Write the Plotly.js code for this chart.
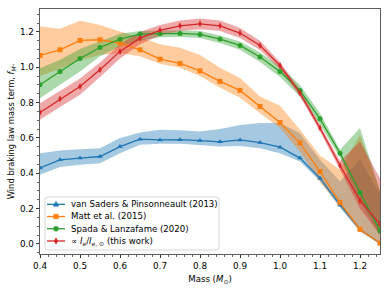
<!DOCTYPE html>
<html>
<head>
<meta charset="utf-8">
<script src="https://cdn.plot.ly/plotly-3.0.1.min.js"></script>
<style>html,body{margin:0;padding:0;background:#fff;}#chart{width:388px;height:291px;}</style>
</head>
<body>
<div id="chart"></div>
<script>
const mass = [0.40,0.45,0.50,0.55,0.60,0.65,0.70,0.75,0.80,0.85,0.90,0.95,1.00,1.05,1.10,1.15,1.20,1.25];

const seriesNames = ["van Saders & Pinsonneault (2013)", "Matt et al. (2015)", "Spada & Lanzafame (2020)", "\u221D <i>I</i><sub><i>e</i></sub>/<i>I</i><sub><i>e</i>, \u2299</sub> (this work)"];

const vanSaders      = [0.430,0.476,0.486,0.495,0.551,0.593,0.589,0.590,0.585,0.578,0.589,0.574,0.548,0.486,0.372,0.221,0.083,0.004];
const vanSadersLow   = [0.391,0.435,0.448,0.457,0.514,0.561,0.567,0.567,0.561,0.551,0.555,0.542,0.514,0.467,0.355,0.205,0.070,0.000];
const vanSadersHigh  = [0.514,0.529,0.536,0.542,0.599,0.631,0.646,0.644,0.636,0.650,0.674,0.684,0.684,0.627,0.476,0.355,0.480,0.280];

const matt      = [1.067,1.099,1.152,1.156,1.137,1.099,1.046,1.022,0.980,0.920,0.869,0.778,0.687,0.572,0.410,0.234,0.083,0.004];
const mattLow   = [0.950,0.990,1.040,1.070,1.080,1.062,1.020,0.997,0.950,0.884,0.827,0.740,0.657,0.520,0.350,0.215,0.070,0.000];
const mattHigh  = [1.231,1.218,1.263,1.240,1.203,1.170,1.130,1.110,1.070,0.997,0.940,0.835,0.782,0.646,0.500,0.420,0.618,0.300];

const spada      = [0.901,0.976,1.050,1.112,1.159,1.188,1.190,1.192,1.186,1.160,1.124,1.058,0.976,0.869,0.708,0.514,0.291,0.075];
const spadaLow   = [0.825,0.901,0.976,1.062,1.118,1.150,1.170,1.172,1.166,1.138,1.100,1.030,0.945,0.835,0.675,0.490,0.240,0.050];
const spadaHigh  = [0.995,1.042,1.103,1.146,1.190,1.205,1.207,1.210,1.205,1.180,1.146,1.084,1.006,0.900,0.740,0.533,0.656,0.300];

const thisWork      = [0.744,0.820,0.891,0.986,1.090,1.165,1.209,1.235,1.246,1.235,1.194,1.124,1.010,0.854,0.656,0.444,0.245,0.113];
const thisWorkLow   = [0.703,0.775,0.845,0.945,1.050,1.130,1.180,1.205,1.216,1.205,1.166,1.098,0.990,0.834,0.636,0.420,0.200,0.050];
const thisWorkHigh  = [0.797,0.865,0.937,1.027,1.130,1.200,1.240,1.265,1.276,1.265,1.222,1.150,1.030,0.874,0.676,0.470,0.580,0.370];

const colors = ["#1f77b4","#ff7f0e","#2ca02c","#d62728"];
const bandColors = ["rgba(31,119,180,0.4)","rgba(255,127,14,0.4)","rgba(44,160,44,0.4)","rgba(214,39,40,0.4)"];
const symbols = ["triangle-up","square","circle","diamond-tall"];
const lines = [vanSaders, matt, spada, thisWork];
const lows = [vanSadersLow, mattLow, spadaLow, thisWorkLow];
const highs = [vanSadersHigh, mattHigh, spadaHigh, thisWorkHigh];

const traces = [];
for (let i = 0; i < 4; i++) {
  const rev = mass.slice().reverse();
  traces.push({
    x: mass.concat(rev),
    y: highs[i].concat(lows[i].slice().reverse()),
    type: 'scatter', mode: 'lines', fill: 'toself',
    fillcolor: bandColors[i], line: {width: 0, color: 'rgba(0,0,0,0)'},
    showlegend: false, hoverinfo: 'skip'
  });
}
for (let i = 0; i < 4; i++) {
  traces.push({
    x: mass, y: lines[i], name: seriesNames[i],
    type: 'scatter', mode: 'lines+markers',
    line: {color: colors[i], width: 1.3},
    marker: {symbol: symbols[i], size: 5, color: colors[i]},
    showlegend: false
  });
}

// ---- custom compact legend (matplotlib style), layout in pixels -> paper ----
const W = 388, H = 291, M = {l: 40, r: 8, t: 9, b: 37};
const PW = W - M.l - M.r, PH = H - M.t - M.b;
const px = v => (v - M.l) / PW;
const py = v => (H - M.b - v) / PH;

const shapes = [];
const annotations = [];
(function () {
  const x0 = 45, x1 = 219, y0 = 197, y1 = 250, r = 2.5;
  const P = (x, y) => px(x) + ',' + py(y);
  const path = 'M' + P(x0 + r, y0) + ' L' + P(x1 - r, y0) + ' Q' + P(x1, y0) + ' ' + P(x1, y0 + r) +
    ' L' + P(x1, y1 - r) + ' Q' + P(x1, y1) + ' ' + P(x1 - r, y1) +
    ' L' + P(x0 + r, y1) + ' Q' + P(x0, y1) + ' ' + P(x0, y1 - r) +
    ' L' + P(x0, y0 + r) + ' Q' + P(x0, y0) + ' ' + P(x0 + r, y0) + ' Z';
  shapes.push({type: 'path', xref: 'paper', yref: 'paper', path: path,
    fillcolor: 'rgba(255,255,255,0.8)', line: {color: '#cccccc', width: 0.8}, layer: 'above'});
})();
const rowY = [204.3, 216.5, 228.7, 241.0];
function glyph(sym, cx, cy, color) {
  const P = (x, y) => px(x) + ',' + py(y);
  let path;
  if (sym === 'triangle-up') {
    path = 'M' + P(cx, cy - 3) + ' L' + P(cx + 2.8, cy + 2) + ' L' + P(cx - 2.8, cy + 2) + ' Z';
  } else if (sym === 'square') {
    path = 'M' + P(cx - 2.3, cy - 2.3) + ' L' + P(cx + 2.3, cy - 2.3) + ' L' + P(cx + 2.3, cy + 2.3) + ' L' + P(cx - 2.3, cy + 2.3) + ' Z';
  } else if (sym === 'diamond-tall') {
    path = 'M' + P(cx, cy - 3.2) + ' L' + P(cx + 1.8, cy) + ' L' + P(cx, cy + 3.2) + ' L' + P(cx - 1.8, cy) + ' Z';
  }
  if (sym === 'circle') {
    shapes.push({type: 'circle', xref: 'paper', yref: 'paper',
      x0: px(cx - 2.5), x1: px(cx + 2.5), y0: py(cy + 2.5), y1: py(cy - 2.5),
      fillcolor: color, line: {color: color, width: 0.5}, layer: 'above'});
  } else {
    shapes.push({type: 'path', xref: 'paper', yref: 'paper', path: path,
      fillcolor: color, line: {color: color, width: 0.5}, layer: 'above'});
  }
}
for (let i = 0; i < 4; i++) {
  shapes.push({type: 'line', xref: 'paper', yref: 'paper',
    x0: px(47), x1: px(65), y0: py(rowY[i]), y1: py(rowY[i]),
    line: {color: colors[i], width: 1.3}, layer: 'above'});
  glyph(symbols[i], 56, rowY[i], colors[i]);
  annotations.push({xref: 'paper', yref: 'paper', x: px(69), y: py(rowY[i]),
    xanchor: 'left', yanchor: 'middle', showarrow: false, text: seriesNames[i],
    font: {family: 'DejaVu Sans, sans-serif', size: 8.6, color: '#000'}});
}

const tickFont = {family: 'DejaVu Sans, sans-serif', size: 8.8, color: '#000'};
const layout = {
  width: W, height: H,
  margin: M,
  paper_bgcolor: '#fff', plot_bgcolor: '#fff',
  font: {family: 'DejaVu Sans, sans-serif', size: 8.8, color: '#000'},
  showlegend: false,
  shapes: shapes,
  annotations: annotations,
  xaxis: {
    range: [0.4, 1.25], dtick: 0.1, tick0: 0.4, tickformat: '.1f', tickfont: tickFont,
    ticks: 'outside', ticklen: 3.5, tickwidth: 0.8, tickcolor: '#000',
    showline: true, linecolor: '#333', linewidth: 0.8, mirror: true,
    showgrid: false, zeroline: false,
    minor: {dtick: 0.02, ticks: 'outside', ticklen: 2, tickwidth: 0.6, tickcolor: '#000', showgrid: false},
    title: {text: 'Mass (<i>M</i><sub>\u2299</sub>)', font: {family: 'DejaVu Sans, sans-serif', size: 8.6}, standoff: 6}
  },
  yaxis: {
    range: [-0.057, 1.33], dtick: 0.2, tick0: 0, tickformat: '.1f', tickfont: tickFont,
    ticks: 'outside', ticklen: 3.5, tickwidth: 0.8, tickcolor: '#000',
    showline: true, linecolor: '#333', linewidth: 0.8, mirror: true,
    showgrid: false, zeroline: false,
    minor: {dtick: 0.05, ticks: 'outside', ticklen: 2, tickwidth: 0.6, tickcolor: '#000', showgrid: false},
    title: {text: 'Wind braking law mass term, <i>f</i><sub><i>M</i></sub>.', font: {family: 'DejaVu Sans, sans-serif', size: 8.4}, standoff: 3}
  }
};

Plotly.newPlot('chart', traces, layout, {staticPlot: true, displayModeBar: false});
</script>
</body>
</html>
